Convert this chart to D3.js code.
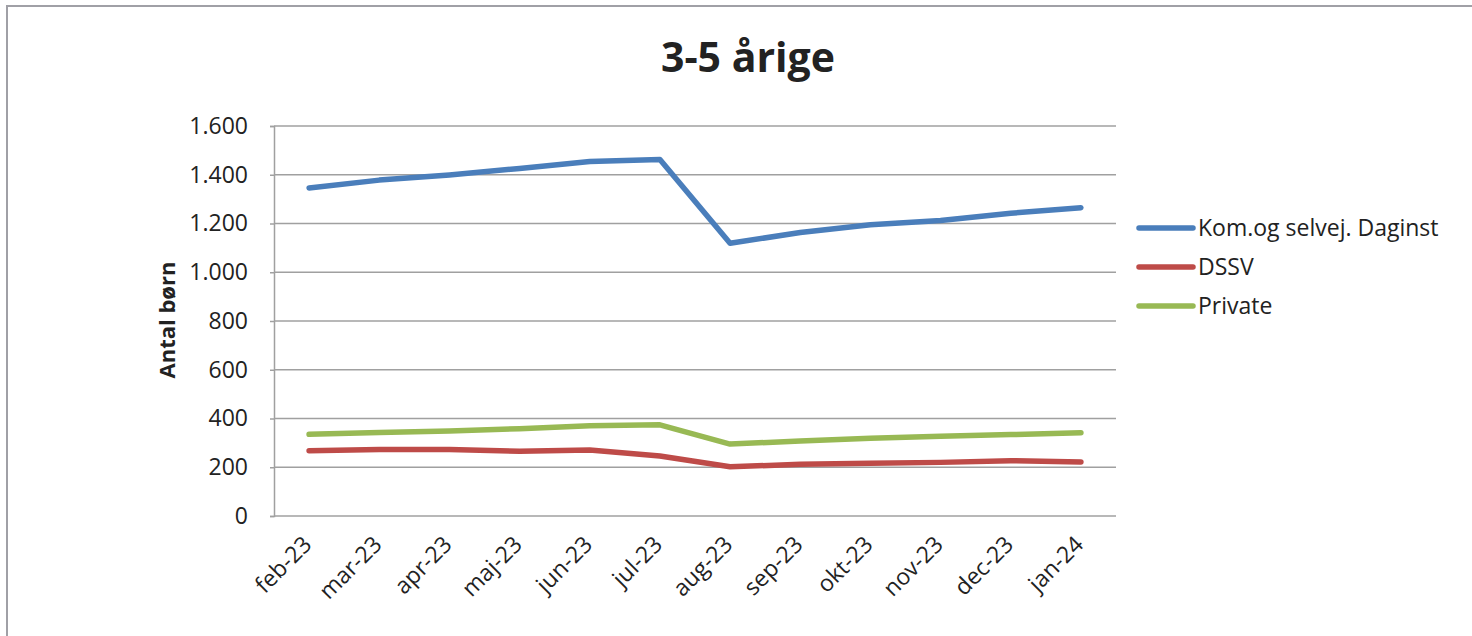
<!DOCTYPE html>
<html>
<head>
<meta charset="utf-8">
<script src="https://cdn.jsdelivr.net/npm/d3@7"></script>
<style>
  body { margin: 0; background: #fff; }
  svg text { font-family: "Open Sans", "DejaVu Sans", sans-serif; fill: #222; }
</style>
</head>
<body>
<div id="chart"></div>
<script>
// data
var months = ["feb-23","mar-23","apr-23","maj-23","jun-23","jul-23","aug-23","sep-23","okt-23","nov-23","dec-23","jan-24"];
var komValues = [1346, 1378, 1399, 1426, 1454, 1463, 1119, 1163, 1195, 1212, 1242, 1265];
var dssvValues = [268, 273, 273, 266, 271, 246, 202, 212, 216, 220, 227, 222];
var privateValues = [335, 343, 349, 358, 370, 374, 295, 308, 319, 327, 334, 342];
var seriesNames = ["Kom.og selvej. Daginst", "DSSV", "Private"];
var yTicks = [0, 200, 400, 600, 800, 1000, 1200, 1400, 1600];

var colors = ["#4a7ebb", "#be4b48", "#98b954"];
var series = [komValues, dssvValues, privateValues];

var width = 1472, height = 636;
var plotLeft = 274, plotRight = 1116, plotTop = 126, plotBottom = 516;

var svg = d3.select("#chart").append("svg").attr("width", width).attr("height", height);

// outer frame (only top and left edges visible)
svg.append("path")
	.attr("d", "M7,636 L7,6 L1472,6")
	.attr("fill", "none").attr("stroke", "#a0a0a6").attr("stroke-width", 2);

var x = d3.scaleBand().domain(months).range([plotLeft, plotRight]);
var y = d3.scaleLinear().domain([0, 1600]).range([plotBottom, plotTop]);

var fmt = function(d) { return d3.format(",")(d).replace(/,/g, "."); };

// gridlines
svg.append("g").selectAll("line").data(yTicks.slice(1)).enter().append("line")
	.attr("x1", plotLeft).attr("x2", plotRight)
	.attr("y1", function(d) { return y(d); }).attr("y2", function(d) { return y(d); })
	.attr("stroke", "#a0a0a0").attr("stroke-width", 1.5);

// y axis
var yAxis = svg.append("g").attr("transform", "translate(" + plotLeft + ",0)")
	.call(d3.axisLeft(y).tickValues(yTicks).tickFormat(fmt).tickSize(4).tickPadding(22));
yAxis.select(".domain").attr("stroke", "#a0a0a0").attr("stroke-width", 1.5);
yAxis.selectAll(".tick line").attr("stroke", "#a0a0a0").attr("stroke-width", 1.5);
yAxis.selectAll(".tick text").style("font-size", "23px").attr("fill", "#222")
	.style("font-family", "'Open Sans', sans-serif");

// x axis baseline
svg.append("line").attr("x1", plotLeft).attr("x2", plotRight).attr("y1", plotBottom).attr("y2", plotBottom)
	.attr("stroke", "#a0a0a0").attr("stroke-width", 1.5);

// x labels, rotated
svg.append("g").selectAll("text").data(months).enter().append("text")
	.attr("transform", function(d) {
		return "translate(" + (x(d) + x.bandwidth() / 2 + 4) + "," + 546 + ") rotate(-45)";
	})
	.attr("text-anchor", "end")
	.style("font-size", "23px")
	.text(function(d) { return d; });

// lines
var line = d3.line()
	.x(function(d, i) { return x(months[i]) + x.bandwidth() / 2; })
	.y(function(d) { return y(d); });

svg.append("g").selectAll("path").data(series).enter().append("path")
	.attr("d", line)
	.attr("fill", "none")
	.attr("stroke", function(d, i) { return colors[i]; })
	.attr("stroke-width", 5.5)
	.attr("stroke-linecap", "round")
	.attr("stroke-linejoin", "round");

// title
svg.append("text").attr("x", 748).attr("y", 72).attr("text-anchor", "middle")
	.style("font-size", "41px").style("font-weight", "bold").text("3-5 årige");

// y axis title
svg.append("text").attr("transform", "translate(175,320) rotate(-90)")
	.attr("text-anchor", "middle").style("font-size", "22px").style("font-weight", "bold")
	.text("Antal børn");

// legend
var legend = svg.append("g").selectAll("g").data(seriesNames).enter().append("g")
	.attr("transform", function(d, i) { return "translate(1139," + (228 + i * 39) + ")"; });
legend.append("line").attr("x1", 0).attr("x2", 54)
	.attr("stroke", function(d, i) { return colors[i]; })
	.attr("stroke-width", 5.5).attr("stroke-linecap", "round");
legend.append("text").attr("x", 59).attr("dy", "0.35em").style("font-size", "23px")
	.text(function(d) { return d; });
</script>
</body>
</html>
